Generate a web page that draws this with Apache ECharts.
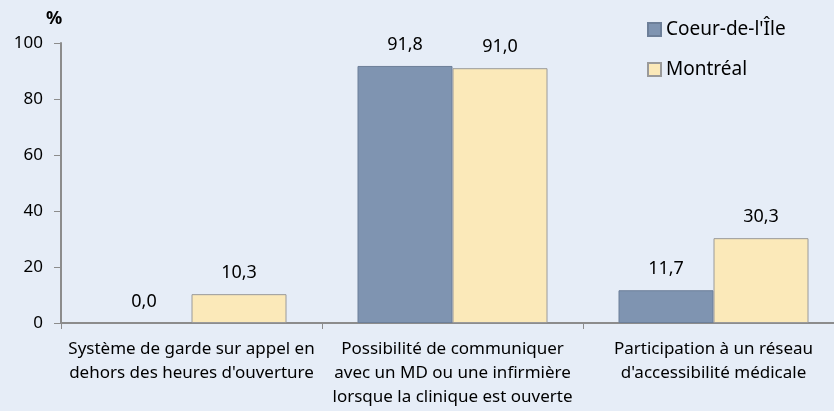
<!DOCTYPE html>
<html>
<head>
<meta charset="utf-8">
<script src="https://cdn.jsdelivr.net/npm/echarts@6/dist/echarts.min.js"></script>
<style>
  html, body { margin: 0; padding: 0; background: #e6edf7; }
  #chart { width: 834px; height: 411px; }
</style>
</head>
<body>
<div id="chart"></div>
<script>
const categories = [
    'Système de garde sur appel en\ndehors des heures d\'ouverture',
    'Possibilité de communiquer\navec un MD ou une infirmière\nlorsque la clinique est ouverte',
    'Participation à un réseau\nd\'accessibilité médicale'
];
const coeurValues = [0.0, 91.8, 11.7];
const montrealValues = [10.3, 91.0, 30.3];
const yTicks = [0, 20, 40, 60, 80, 100];

const font = '"Noto Sans", "Open Sans", sans-serif';
const fmt = p => p.value.toFixed(1).replace('.', ',');
// zero-height bars have no visible outline in the original
const toData = arr => arr.map(v => v === 0 ? { value: v, itemStyle: { borderWidth: 0 } } : v);

const chart = echarts.init(document.getElementById('chart'));
chart.setOption({
    backgroundColor: '#e6edf7',
    animation: false,
    textStyle: { fontFamily: font },
    graphic: [{
        type: 'text',
        left: 46,
        top: 10,
        style: { text: '%', font: 'bold 18px ' + font, fill: '#000' }
    }],
    legend: {
        orient: 'vertical',
        left: 647,
        top: 20,
        padding: 0,
        icon: 'rect',
        itemWidth: 13,
        itemHeight: 13,
        itemGap: 21,
        textStyle: { fontSize: 19, color: '#000', fontFamily: font },
        data: ['Coeur-de-l\'Île', 'Montréal']
    },
    grid: { left: 61, top: 43, width: 783, bottom: 88, containLabel: false, outerBoundsMode: 'none' },
    xAxis: {
        type: 'category',
        data: categories,
        axisLine: { lineStyle: { color: '#8c8c8c', width: 2 } },
        axisTick: { show: true, length: 6, lineStyle: { color: '#8c8c8c' } },
        axisLabel: { color: '#000', fontSize: 17, lineHeight: 24, margin: 14, interval: 0, fontFamily: font }
    },
    yAxis: {
        type: 'value',
        min: yTicks[0],
        max: yTicks[yTicks.length - 1],
        interval: 20,
        splitLine: { show: false },
        axisLine: { show: true, lineStyle: { color: '#8c8c8c', width: 2 } },
        axisTick: { show: true, length: 7, inside: false, lineStyle: { color: '#8c8c8c' } },
        axisLabel: { color: '#000', fontSize: 17, margin: 18, fontFamily: font }
    },
    series: [{
        name: 'Coeur-de-l\'Île',
        type: 'bar',
        data: toData(coeurValues),
        barWidth: 95,
        barGap: '0%',
        itemStyle: { color: '#7f94b1', borderColor: '#6d7f99', borderWidth: 1 },
        label: { show: true, position: 'top', distance: 12, color: '#000', fontSize: 18, formatter: fmt, fontFamily: font }
    }, {
        name: 'Montréal',
        type: 'bar',
        data: toData(montrealValues),
        barWidth: 95,
        barGap: '0%',
        itemStyle: { color: '#fbe9b9', borderColor: '#9a9a9a', borderWidth: 1 },
        label: { show: true, position: 'top', distance: 12, color: '#000', fontSize: 18, formatter: fmt, fontFamily: font }
    }]
});
</script>
</body>
</html>
